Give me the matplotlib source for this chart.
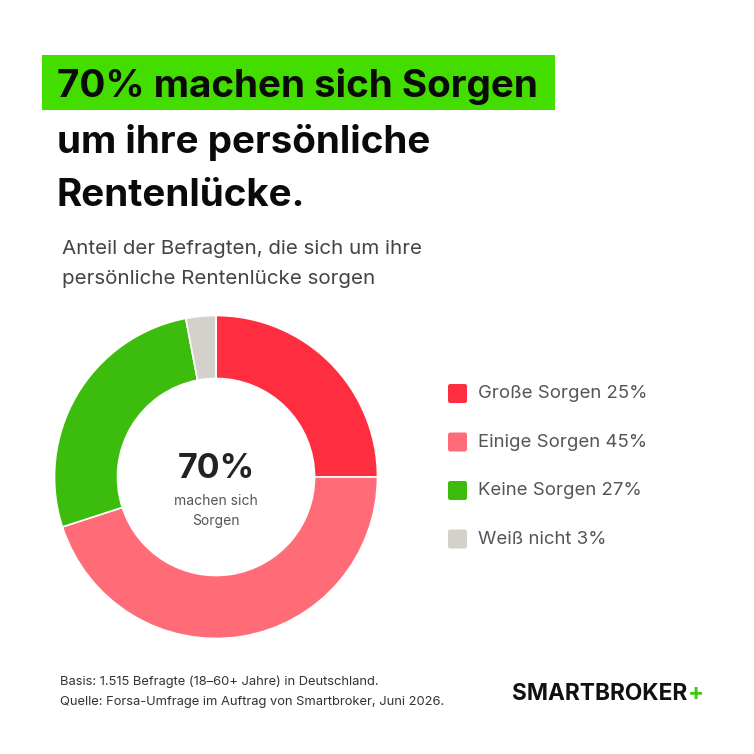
import matplotlib
matplotlib.use("Agg")
import matplotlib.pyplot as plt
from matplotlib.patches import Rectangle, FancyBboxPatch

# === Dati ===
categorie = ["Große Sorgen", "Einige Sorgen", "Keine Sorgen", "Weiß nicht"]
valori = [25, 45, 27, 3]
colori = ["#FF2D40", "#FF6B76", "#3CBC0C", "#D4D1CA"]

W = H = 754
FONT = "Inter"

fig = plt.figure(figsize=(W / 100, H / 100), dpi=100)
fig.patch.set_facecolor("white")


def fx(x):
    return x / W


def fy(y):
    return 1 - y / H


# === Titolo con evidenziatore ===
fig.patches.append(Rectangle((fx(42), fy(110)), fx(555) - fx(42), (110 - 55) / H,
                             transform=fig.transFigure, facecolor="#44DD00", edgecolor="none", zorder=0))
titolo = ["70% machen sich Sorgen", "um ihre persönliche", "Rentenlücke."]
for riga, base in zip(titolo, [97, 153, 206]):
    fig.text(fx(57), fy(base), riga, fontsize=27.8, fontweight="bold", family=FONT,
             color="#0a0a0a", va="baseline", ha="left")

# === Sottotitolo ===
fig.text(fx(62), fy(254), "Anteil der Befragten, die sich um ihre", fontsize=14.8,
         family=FONT, color="#444444", va="baseline")
fig.text(fx(62), fy(284), "persönliche Rentenlücke sorgen", fontsize=14.8,
         family=FONT, color="#444444", va="baseline")

# === Donut ===
cx, cy, r = 216, 477, 161.5
ax = fig.add_axes([fx(cx - r), fy(cy + r), 2 * r / W, 2 * r / H])
ax.pie(valori, colors=colori, startangle=90, counterclock=False, radius=1,
       wedgeprops=dict(width=0.39, edgecolor="white", linewidth=1.2))
ax.set_xlim(-1.0, 1.0)
ax.set_ylim(-1.0, 1.0)
ax.set_aspect("equal")
ax.set_axis_off()

ax.text(0, -0.005, "70%", fontsize=24.5, fontweight="bold", family=FONT, color="#222222",
        ha="center", va="baseline")
ax.text(0, -0.175, "machen sich", fontsize=10, family=FONT, color="#555555", ha="center", va="baseline")
ax.text(0, -0.295, "Sorgen", fontsize=10, family=FONT, color="#555555", ha="center", va="baseline")

# === Legenda ===
for i, (cat, val, col) in enumerate(zip(categorie, valori, colori)):
    yc = 394 + i * 48.5
    fig.patches.append(FancyBboxPatch((fx(448), fy(yc + 9)), 19 / W, 19 / H,
                                      boxstyle="round,pad=0,rounding_size=0.003",
                                      transform=fig.transFigure, facecolor=col, edgecolor="none"))
    fig.text(fx(478), fy(yc), f"{cat} {val}%", fontsize=13.4, family=FONT,
             color="#555555", va="center", ha="left")

# === Note ===
fig.text(fx(60), fy(685), "Basis: 1.515 Befragte (18–60+ Jahre) in Deutschland.",
         fontsize=9.3, family=FONT, color="#333333", va="baseline")
fig.text(fx(60), fy(705), "Quelle: Forsa-Umfrage im Auftrag von Smartbroker, Juni 2026.",
         fontsize=9.3, family=FONT, color="#333333", va="baseline")

# === Logo ===
logo = fig.text(fx(512), fy(700), "SMARTBROKER", fontsize=16.3, fontweight="bold",
                family=FONT, color="#111111", va="baseline")
fig.canvas.draw()
bb = logo.get_window_extent()
fig.text(bb.x1 / W + 0.001, fy(700), "+", fontsize=17, fontweight="bold", family=FONT,
         color="#3CC80C", va="baseline")

plt.savefig("out.png", dpi=100)
plt.close()
